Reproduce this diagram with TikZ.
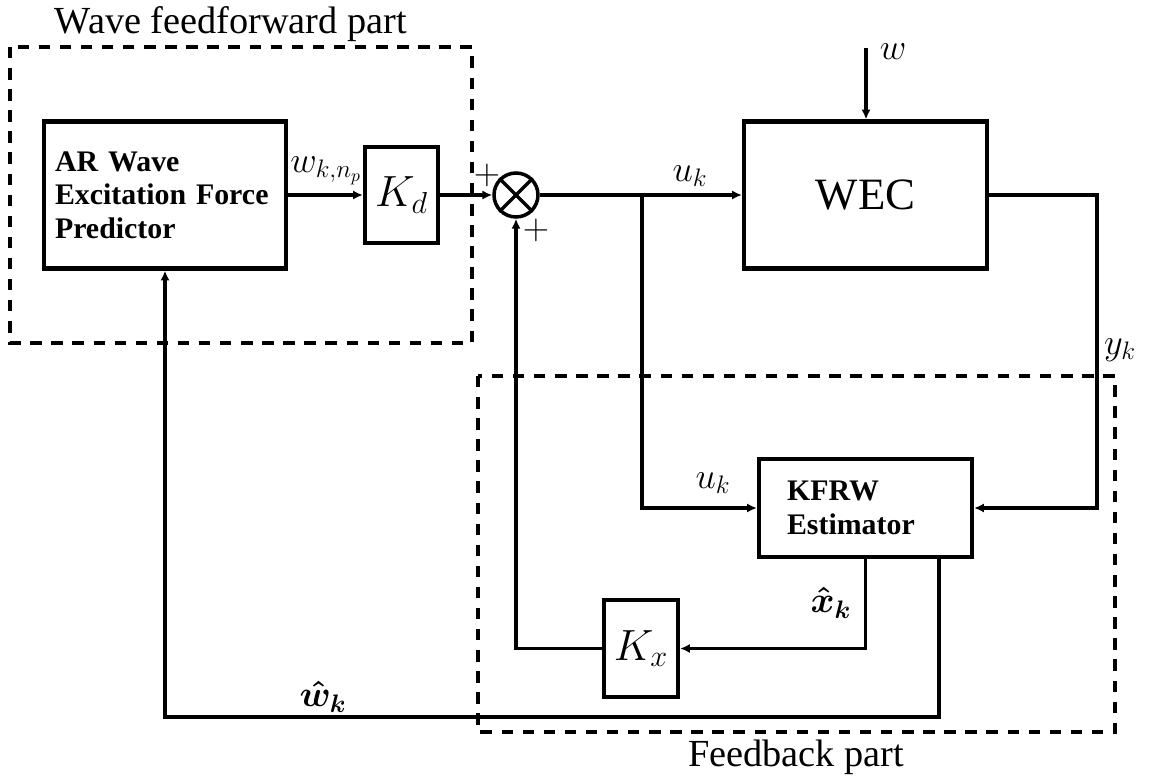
\documentclass[tikz,border=0pt]{standalone}
\usepackage{amsmath,amssymb}
\usepackage{fontspec}
\setmainfont{Liberation Serif}
\usetikzlibrary{arrows.meta,positioning}

\begin{document}
\begin{tikzpicture}[x=0.02cm,y=-0.02cm,
  blk/.style={draw,line width=2.4pt,inner sep=0pt},
  bt/.style={font=\fontsize{17}{19}\selectfont\bfseries,align=left},
  arr/.style={-{Latex[length=5.6pt,width=5.2pt]},line width=1.9pt},
  wire/.style={line width=1.9pt},
  grp/.style={draw,line width=2.1pt,dash pattern=on 6.5pt off 5.5pt},
  lbl/.style={font=\fontsize{20}{24}\selectfont},
  gain/.style={font=\fontsize{26}{30}\selectfont},
  grptitle/.style={font=\fontsize{21.8}{26}\selectfont}
]
\useasboundingbox (0,0) rectangle (1149,781);

% grouping frames
\draw[grp] (10,47) rectangle (472,343);
\draw[grp] (478,376) rectangle (1115,732);
\node[grptitle] (fftitle) at (231,24) {Wave feedforward part};
\node[grptitle] (fbtitle) at (796,757) {Feedback part};

% blocks
\node[blk,bt,minimum width=4.84cm,minimum height=2.94cm,text width=4.4cm] (ar) at (165,195) {AR Wave\\Excitation Force\\Predictor};
\node[blk,gain,minimum width=1.46cm,minimum height=1.92cm] (kd) at (401.5,195) {$K_d$};
\node[draw,circle,line width=2pt,minimum size=0.88cm,inner sep=0pt] (sum) at (516,195) {};
\draw[wire] (sum.north west) -- (sum.south east) (sum.north east) -- (sum.south west);
\node[blk,minimum width=4.86cm,minimum height=2.94cm,font=\fontsize{25.5}{30}\selectfont] (wec) at (865.5,195) {WEC};
\node[blk,bt,minimum width=4.26cm,minimum height=1.96cm,text width=3.14cm] (kfrw) at (865.5,508) {KFRW\\Estimator};
\node[blk,gain,minimum width=1.48cm,minimum height=1.94cm] (kx) at (641,648.5) {$K_x$};

% free ends and corners
\coordinate (win) at (866,48);
\coordinate (br) at (642,195);
\coordinate (yc) at (1097,350);
\coordinate (wc) at (500,717);

% signals
\draw[arr] (ar) -- (kd);
\draw[arr] (kd) -- (sum);
\draw[arr] (sum) -- (wec);
\draw[arr] (win) -- (win |- wec.north);
\draw[arr] (br) |- (kfrw);
\draw[arr] (wec) -| (yc) |- (kfrw);
\draw[arr] (kfrw.south) |- (kx);
\draw[arr] (kx) -| (sum);
\draw[arr] ([xshift=-0.7cm]kfrw.south east) |- (wc) -| (ar.south);

% labels
\node[lbl] (wnp) at (326,171) {$w_{k,n_p}$};
\node[lbl] (plus1) at (487,175) {$+$};
\node[lbl] (plus2) at (536,230) {$+$};
\node[lbl] (uk1) at (690,176) {$u_k$};
\node[lbl] (wlab) at (893,52) {$w$};
\node[lbl] (yk) at (1120,350) {$y_k$};
\node[lbl] (uk2) at (713,483) {$u_k$};
\node[lbl] (xh) at (831,603) {$\boldsymbol{\hat{x}_k}$};
\node[lbl] (wh) at (323,697) {$\boldsymbol{\hat{w}_k}$};
\end{tikzpicture}
\end{document}
